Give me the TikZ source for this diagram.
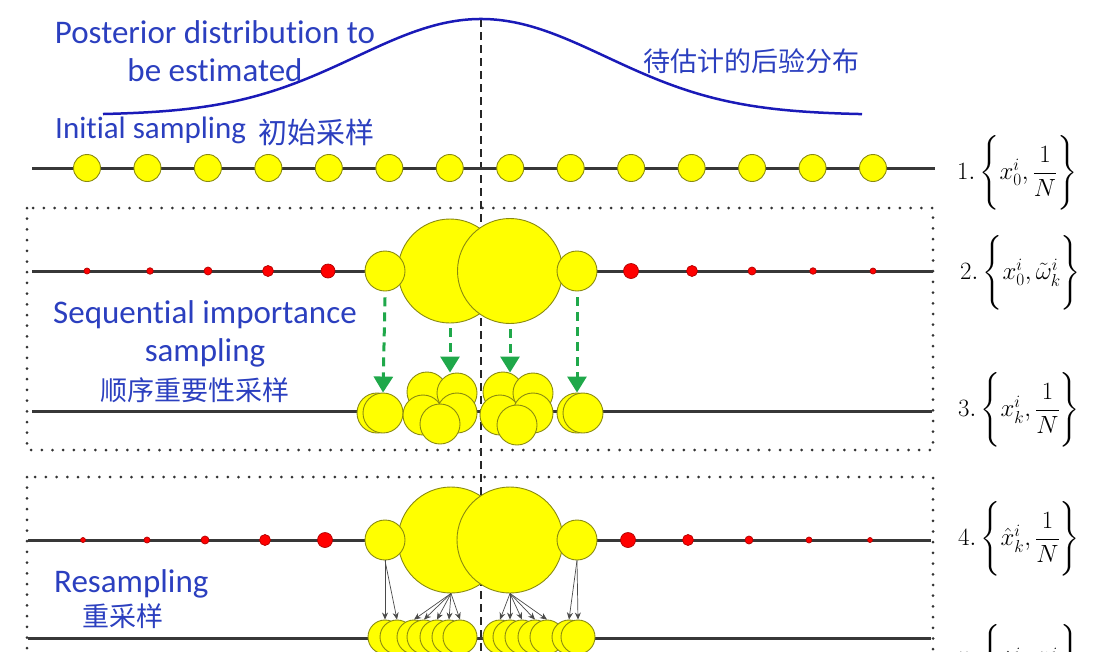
\documentclass[tikz,border=0pt]{standalone}
\usepackage{amsmath}
\usepackage[no-math]{fontspec}
\setmainfont{Carlito}[Ligatures=CommonOff]
\newfontfamily\cjk{Noto Sans CJK SC}
\usepackage{xcolor}
\usetikzlibrary{arrows.meta}
\definecolor{notecol}{HTML}{2B3FBF}
\definecolor{curvecol}{HTML}{1A1AB8}
\definecolor{partfill}{HTML}{FFFF00}
\definecolor{partdraw}{HTML}{8A8A10}
\definecolor{wtdraw}{HTML}{B00000}
\definecolor{movecol}{HTML}{1FA84A}
\definecolor{copycol}{HTML}{4A4A4A}
\newcommand\bracestrut{\rule[-27pt]{0pt}{66pt}}
\tikzset{
  axisline/.style={line width=3pt,draw=black!78},
  particle/.style={circle,draw=partdraw,fill=partfill,line width=0.9pt,inner sep=0pt},
  weight/.style={circle,draw=wtdraw,fill=red,line width=0.7pt,inner sep=0pt},
  stagebox/.style={draw=black!80,line width=3pt,dash pattern=on 0pt off 10.7pt,line cap=round},
  midline/.style={draw=black!85,line width=1.8pt,dash pattern=on 8pt off 5pt},
  note/.style={text=notecol,font=\fontsize{33}{38}\selectfont,inner sep=0pt},
  zhnote/.style={text=notecol,font=\cjk\fontsize{27}{31}\selectfont,inner sep=0pt},
  formula/.style={font=\fontsize{24}{29}\selectfont,inner sep=0pt},
  move/.style={draw=movecol,line width=3pt,dash pattern=on 9pt off 6pt,-{Triangle[length=16pt,width=19pt]}},
  copy/.style={draw=copycol,line width=0.7pt,-{Stealth[length=7pt,width=6pt]}}
}

\begin{document}
\begin{tikzpicture}[x=1pt,y=-1pt]
  \useasboundingbox (0,0) rectangle (1110,651);
  \clip (0,0) rectangle (1110,651);

  \draw[midline] (481,19) -- (481,660);
  \draw[curvecol,line width=2.5pt] plot[domain=103:862,samples=150,smooth]
    (\x,{115-96*exp(-((\x-481)/125)*((\x-481)/125)/2)});

  \node[note,anchor=base] (post1) at (215,43) {Posterior distribution to};
  \node[note,anchor=base] (post2) at (215,81) {be estimated};
  \node[zhnote] (postzh) at (751,61) {待估计的后验分布};
  \node[note,anchor=base west,font=\fontsize{31}{36}\selectfont] (init) at (55,138) {Initial sampling};
  \node[zhnote,anchor=west,font=\cjk\fontsize{29}{33}\selectfont] (initzh) at (258,132) {初始采样};

  \draw[stagebox] (27,208) rectangle (933,450);
  \draw[stagebox] (27,477) rectangle (933,720);

  % initial particles
  \draw[axisline] (32,168) -- (935,168);
  \foreach \i in {0,...,13}
    \node[particle,minimum size=27pt] (a\i) at ({87+60.46*\i},168) {};

  % weighted particles
  \draw[axisline] (32,271) -- (933,271);
  \foreach \x/\r [count=\i] in {87/3,150/3.3,208/4,268/5.5,328/7,631/7.5,692/5.5,752/4,813/3.3,873/3}
    \node[weight,minimum size={2*\r*1pt}] (w\i) at (\x,271) {};
  \node[particle,minimum size=104pt] (bl) at (450,271) {};
  \node[particle,minimum size=105pt] (br) at (510,271) {};
  \node[particle,minimum size=40pt] (sl) at (385,271) {};
  \node[particle,minimum size=40pt] (sr) at (577,271) {};

  \node[note,anchor=base] (sis1) at (205,323) {Sequential importance};
  \node[note,anchor=base] (sis2) at (205,361) {sampling};
  \node[zhnote] (siszh) at (195,390) {顺序重要性采样};

  % moved particles
  \draw[axisline] (32,411) -- (932,411);
  \foreach \x/\y [count=\i] in {377/413,383/413,427/392,457/393,423/415,457/413,440/424,
                                503/392,533/393,500/415,533/413,517/425,577/413,583/413}
    \node[particle,minimum size=40pt] (m\i) at (\x,\y) {};

  \draw[move] (sl.south) ++(0,6) -- (m2.north);
  \draw[move] (bl.south) ++(0,5) -- (bl.south |- m4.north);
  \draw[move] (br.south) ++(0,5) -- (br.south |- m9.north);
  \draw[move] (sr.south) ++(0,6) -- (m13.north);

  % resampling
  \draw[axisline] (28,540) -- (931,540);
  \foreach \x/\r [count=\i] in {83/2.5,147/3,205/4,265/5.5,325/7.5,628/7.5,688/5.5,749/4,809/3,870/2.5}
    \node[weight,minimum size={2*\r*1pt}] (v\i) at (\x,540) {};
  \node[particle,minimum size=106pt] (cl) at (451,540) {};
  \node[particle,minimum size=106pt] (cr) at (510,540) {};
  \node[particle,minimum size=40pt] (tl) at (385,540) {};
  \node[particle,minimum size=40pt] (tr) at (577,540) {};

  \node[note,anchor=base west] (res) at (54,592) {Resampling};
  \node[zhnote] (reszh) at (123,616) {重采样};

  \draw[axisline] (28,638) -- (931,638);
  \foreach \x [count=\i] in {385,397,414,424,437,449,460,500,510,522,535,547,569,578}
    \node[particle,minimum size=34pt] (r\i) at (\x,637) {};

  \foreach \i in {1,2}
    \draw[copy] (tl.south) -- (r\i.north);
  \foreach \i in {3,...,7}
    \draw[copy] (cl.south) -- (r\i.north);
  \foreach \i in {8,...,12}
    \draw[copy] (cr.south) -- (r\i.north);
  \foreach \i in {13,14}
    \draw[copy] (tr.south) -- (r\i.north);

  % particle sets
  \node[formula,anchor=west] (f1) at (957,173) {$1.\left\{\bracestrut x_0^i,\dfrac{1}{N}\right\}$};
  \node[formula,anchor=west] (f2) at (960,273) {$2.\left\{\bracestrut x_0^i,\tilde{\omega}_k^i\right\}$};
  \node[formula,anchor=west] (f3) at (958,410) {$3.\left\{\bracestrut x_k^i,\dfrac{1}{N}\right\}$};
  \node[formula,anchor=west] (f4) at (958,539) {$4.\left\{\bracestrut\hat{x}_k^i,\dfrac{1}{N}\right\}$};
  \node[formula,anchor=west] (f5) at (958,662) {$5.\left\{\bracestrut\hat{x}_k^i,\tilde{\omega}_k^i\right\}$};
\end{tikzpicture}
\end{document}
